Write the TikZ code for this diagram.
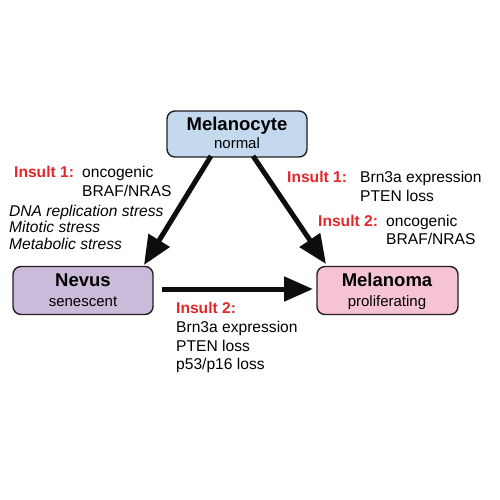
\documentclass[tikz,border=0pt]{standalone}
\usepackage{fontspec}
\setmainfont{Liberation Sans}
\usetikzlibrary{arrows.meta}
\definecolor{ired}{HTML}{E3262A}
\definecolor{cblue}{HTML}{C4D9EE}
\definecolor{cpurple}{HTML}{CABBDA}
\definecolor{cpink}{HTML}{F6C3D6}
\definecolor{cborder}{HTML}{231F20}
\begin{document}
\begin{tikzpicture}[x=1pt,y=-1pt,
  cellbox/.style={draw=cborder,line width=1.4pt,rounded corners=8pt,minimum width=140pt,minimum height=48pt,inner sep=0pt},
  ttl/.style={font=\fontsize{18.5}{20}\selectfont\bfseries,anchor=base,inner sep=0pt},
  sub/.style={font=\fontsize{15}{17}\selectfont,anchor=base,inner sep=0pt},
  txt/.style={font=\fontsize{15.6}{18}\selectfont,anchor=base west,inner sep=0pt},
  itx/.style={txt,font=\fontsize{15.6}{18}\selectfont\itshape},
  ins/.style={txt,font=\fontsize{15.6}{18}\selectfont\bfseries,text=ired},
  bigarrow/.style={line width=5pt,draw=black!95,-{Triangle[length=29pt,width=24pt]}}]
\useasboundingbox (0,0) rectangle (500,500);
% boxes
\node[cellbox,fill=cblue,minimum width=140pt,minimum height=46pt] (mcy) at (237,134) {};
\node[cellbox,fill=cpurple] (nev) at (83,290.5) {};
\node[cellbox,fill=cpink,minimum width=141pt] (mel) at (387.5,290.5) {};
% box texts
\node[ttl] (mcyt) at (237,130.7) {Melanocyte};
\node[sub] (mcys) at (237,148) {normal};
\node[ttl] (nevt) at (83,286.7) {Nevus};
\node[sub] (nevs) at (83,306.7) {senescent};
\node[ttl] (melt) at (387,286.7) {Melanoma};
\node[sub] (mels) at (387,306.7) {proliferating};
% arrows
\coordinate (a1s) at (211,156);
\coordinate (a1e) at (144,265);
\coordinate (a2s) at (253,156);
\coordinate (a2e) at (326,264);
\coordinate (a3s) at (162,289);
\coordinate (a3e) at (313,289);
\draw[bigarrow] (a1s) -- (a1e);
\draw[bigarrow] (a2s) -- (a2e);
\draw[bigarrow] (a3s) -- (a3e);
% left labels
\node[ins] (l1) at (14,177) {Insult 1:};
\node[txt] (l2) at (82,177) {oncogenic};
\node[txt] (l3) at (82,196) {BRAF/NRAS};
\node[itx] (l4) at (9,216.7) {DNA replication stress};
\node[itx] (l5) at (9,232.7) {Mitotic stress};
\node[itx] (l6) at (9,249) {Metabolic stress};
% right labels
\node[ins] (r1) at (287,182) {Insult 1:};
\node[txt] (r2) at (360,182) {Brn3a expression};
\node[txt] (r3) at (360,201.7) {PTEN loss};
\node[ins] (r4) at (318,226.7) {Insult 2:};
\node[txt] (r5) at (386,226.7) {oncogenic};
\node[txt] (r6) at (386,244.5) {BRAF/NRAS};
% bottom labels
\node[ins] (b1) at (176,313) {Insult 2:};
\node[txt] (b2) at (176,332) {Brn3a expression};
\node[txt] (b3) at (176,351) {PTEN loss};
\node[txt] (b4) at (176,369.5) {p53/p16 loss};
\end{tikzpicture}
\end{document}
